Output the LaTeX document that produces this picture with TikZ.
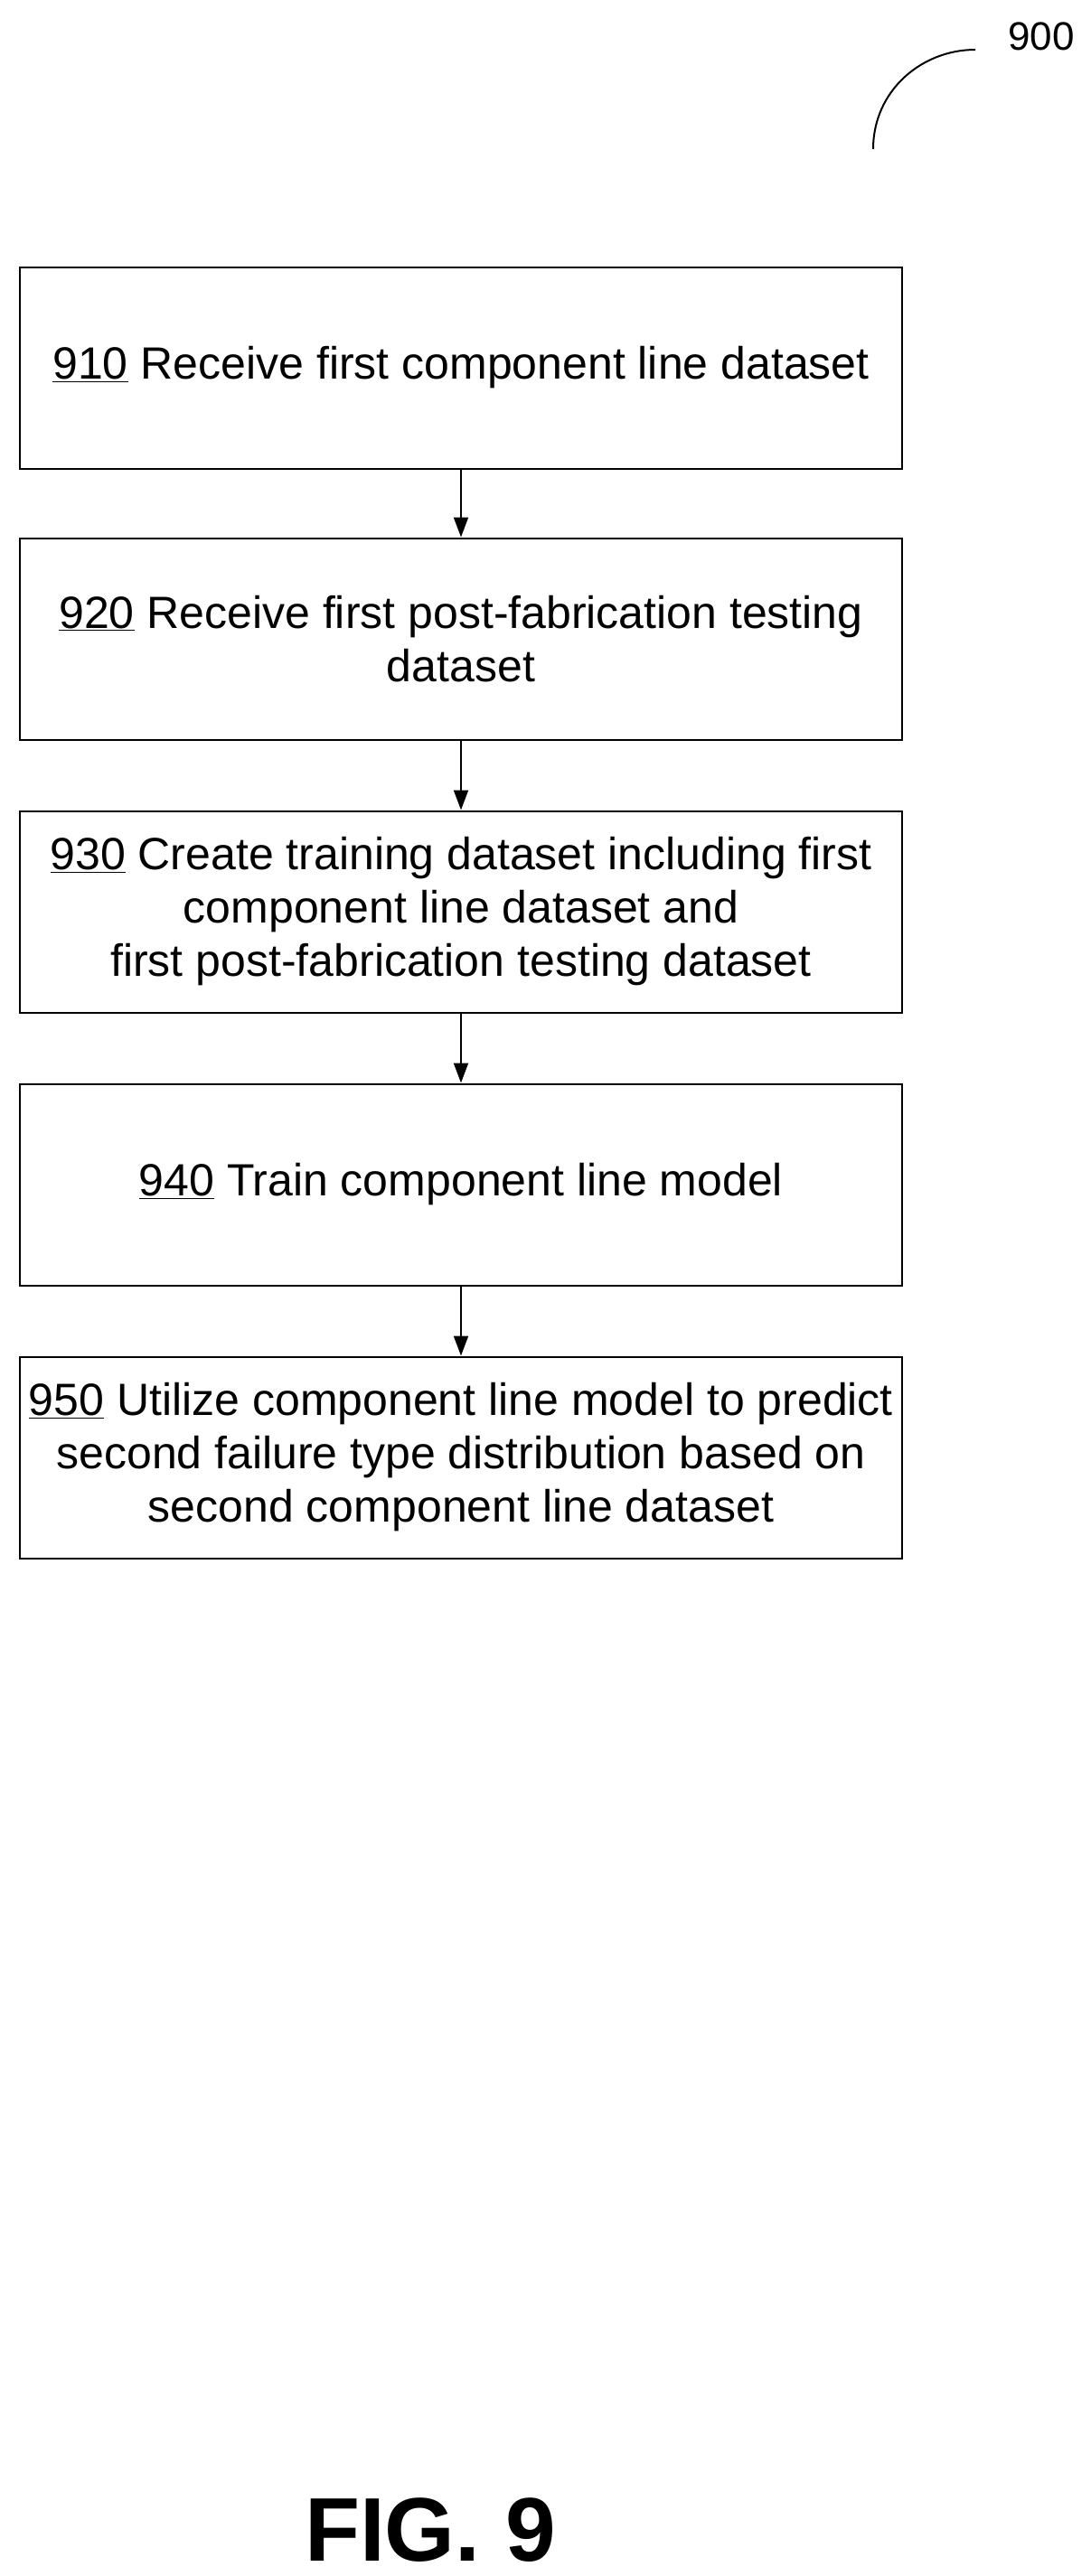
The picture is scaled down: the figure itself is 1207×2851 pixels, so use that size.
\documentclass[tikz,border=0pt]{standalone}
\usepackage{fontspec}
\setmainfont{Liberation Sans}
\usetikzlibrary{arrows.meta}
\begin{document}
\begin{tikzpicture}[x=1pt,y=1pt,
  box/.style={draw,line width=2pt,minimum width=976pt,minimum height=223pt,align=center,font=\fontsize{50}{59}\selectfont,inner sep=0pt},
  arr/.style={line width=2pt,-{Triangle[length=22pt,width=16pt]}}]
\useasboundingbox (0,0) rectangle (1207,-2851);
\node[box] (b1) at (510,-407) {\underline{910} Receive first component line dataset};
\node[box] (b2) at (510,-707) {\underline{920} Receive first post-fabrication testing\\dataset};
\node[box] (b3) at (510,-1009) {\underline{930} Create training dataset including first\\component line dataset and\\first post-fabrication testing dataset};
\node[box] (b4) at (510,-1311) {\underline{940} Train component line model};
\node[box] (b5) at (510,-1613) {\underline{950} Utilize component line model to predict\\second failure type distribution based on\\second component line dataset};
\draw[arr] (b1) -- (b2);
\draw[arr] (b2) -- (b3);
\draw[arr] (b3) -- (b4);
\draw[arr] (b4) -- (b5);
\node[font=\fontsize{44}{52}\selectfont] (n900) at (1152,-40) {900};
\coordinate (a0) at (966,-165);
\draw[line width=2pt] (a0) .. controls (966,-100) and (1020,-55) .. (1079,-55);
\node[font=\bfseries\fontsize{100}{110}\selectfont] (fig) at (476,-2800) {FIG. 9};
\end{tikzpicture}
\end{document}
